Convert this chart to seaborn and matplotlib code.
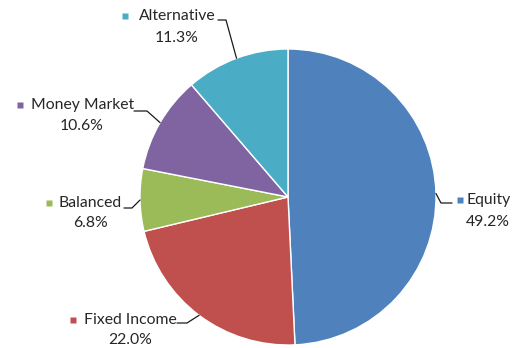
import numpy as np
import matplotlib
matplotlib.use("Agg")
import matplotlib.pyplot as plt
import seaborn as sns

# Asset allocation shares (%)
categories = ["Equity", "Fixed Income", "Balanced", "Money Market", "Alternative"]
shares = [49.2, 22.0, 6.8, 10.6, 11.3]
colors = ["#4F81BD", "#C0504D", "#9BBB59", "#8064A2", "#4BACC6"]

sns.set_theme(style="white")
plt.rcParams["font.family"] = ["Lato", "DejaVu Sans"]

W, H = 523, 348
fig = plt.figure(figsize=(W / 100, H / 100), dpi=100)
ax = fig.add_axes([0, 0, 1, 1])

cx, cy, r = 288, H - 197, 148
palette = sns.color_palette(colors)
wedges, _ = ax.pie(shares, colors=palette, startangle=90, counterclock=False,
                   center=(cx, cy), radius=r, frame=True,
                   wedgeprops=dict(edgecolor="white", linewidth=1.0))
ax.set_xlim(0, W)
ax.set_ylim(0, H)
ax.set_aspect("equal")
ax.axis("off")

# label layout: marker pos, text left, pct centre x, line y's, elbow, line end
layout = {
    "Equity":       dict(mk=(460, 200), tx=466, px=488, y1=200, y2=222, elbow=(441, 203), end=(452, 203)),
    "Fixed Income": dict(mk=(73, 320), tx=84, px=130, y1=320, y2=340, elbow=(187, 323), end=(177, 323)),
    "Balanced":     dict(mk=(49, 203), tx=59, px=90, y1=203, y2=223, elbow=(132, 208), end=(124, 208)),
    "Money Market": dict(mk=(20, 105), tx=31, px=82, y1=105, y2=126, elbow=(147, 111), end=(134, 111)),
    "Alternative":  dict(mk=(125, 16), tx=139, px=177, y1=16, y2=38, elbow=(226, 20), end=(218, 20)),
}

txt_color = "#262626"
for w, name, val, col in zip(wedges, categories, shares, palette):
    L = layout[name]
    mid = np.deg2rad((w.theta1 + w.theta2) / 2)
    rim = (cx + r * np.cos(mid), cy + r * np.sin(mid))
    ex, ey = L["elbow"]
    nx, ny = L["end"]
    ax.plot([rim[0], ex, nx], [rim[1], H - ey, H - ny], color="#1a1a1a", lw=0.9)
    mx, my = L["mk"]
    ax.plot(mx, H - my, marker="s", ms=4.5, color=col, mec="none")
    ax.text(L["tx"], H - L["y1"], name, ha="left", va="center",
            fontsize=11.3, color=txt_color)
    ax.text(L["px"], H - L["y2"], f"{val:.1f}%", ha="center", va="center",
            fontsize=11.3, color=txt_color)

fig.savefig("out.png", dpi=100, facecolor="white")
